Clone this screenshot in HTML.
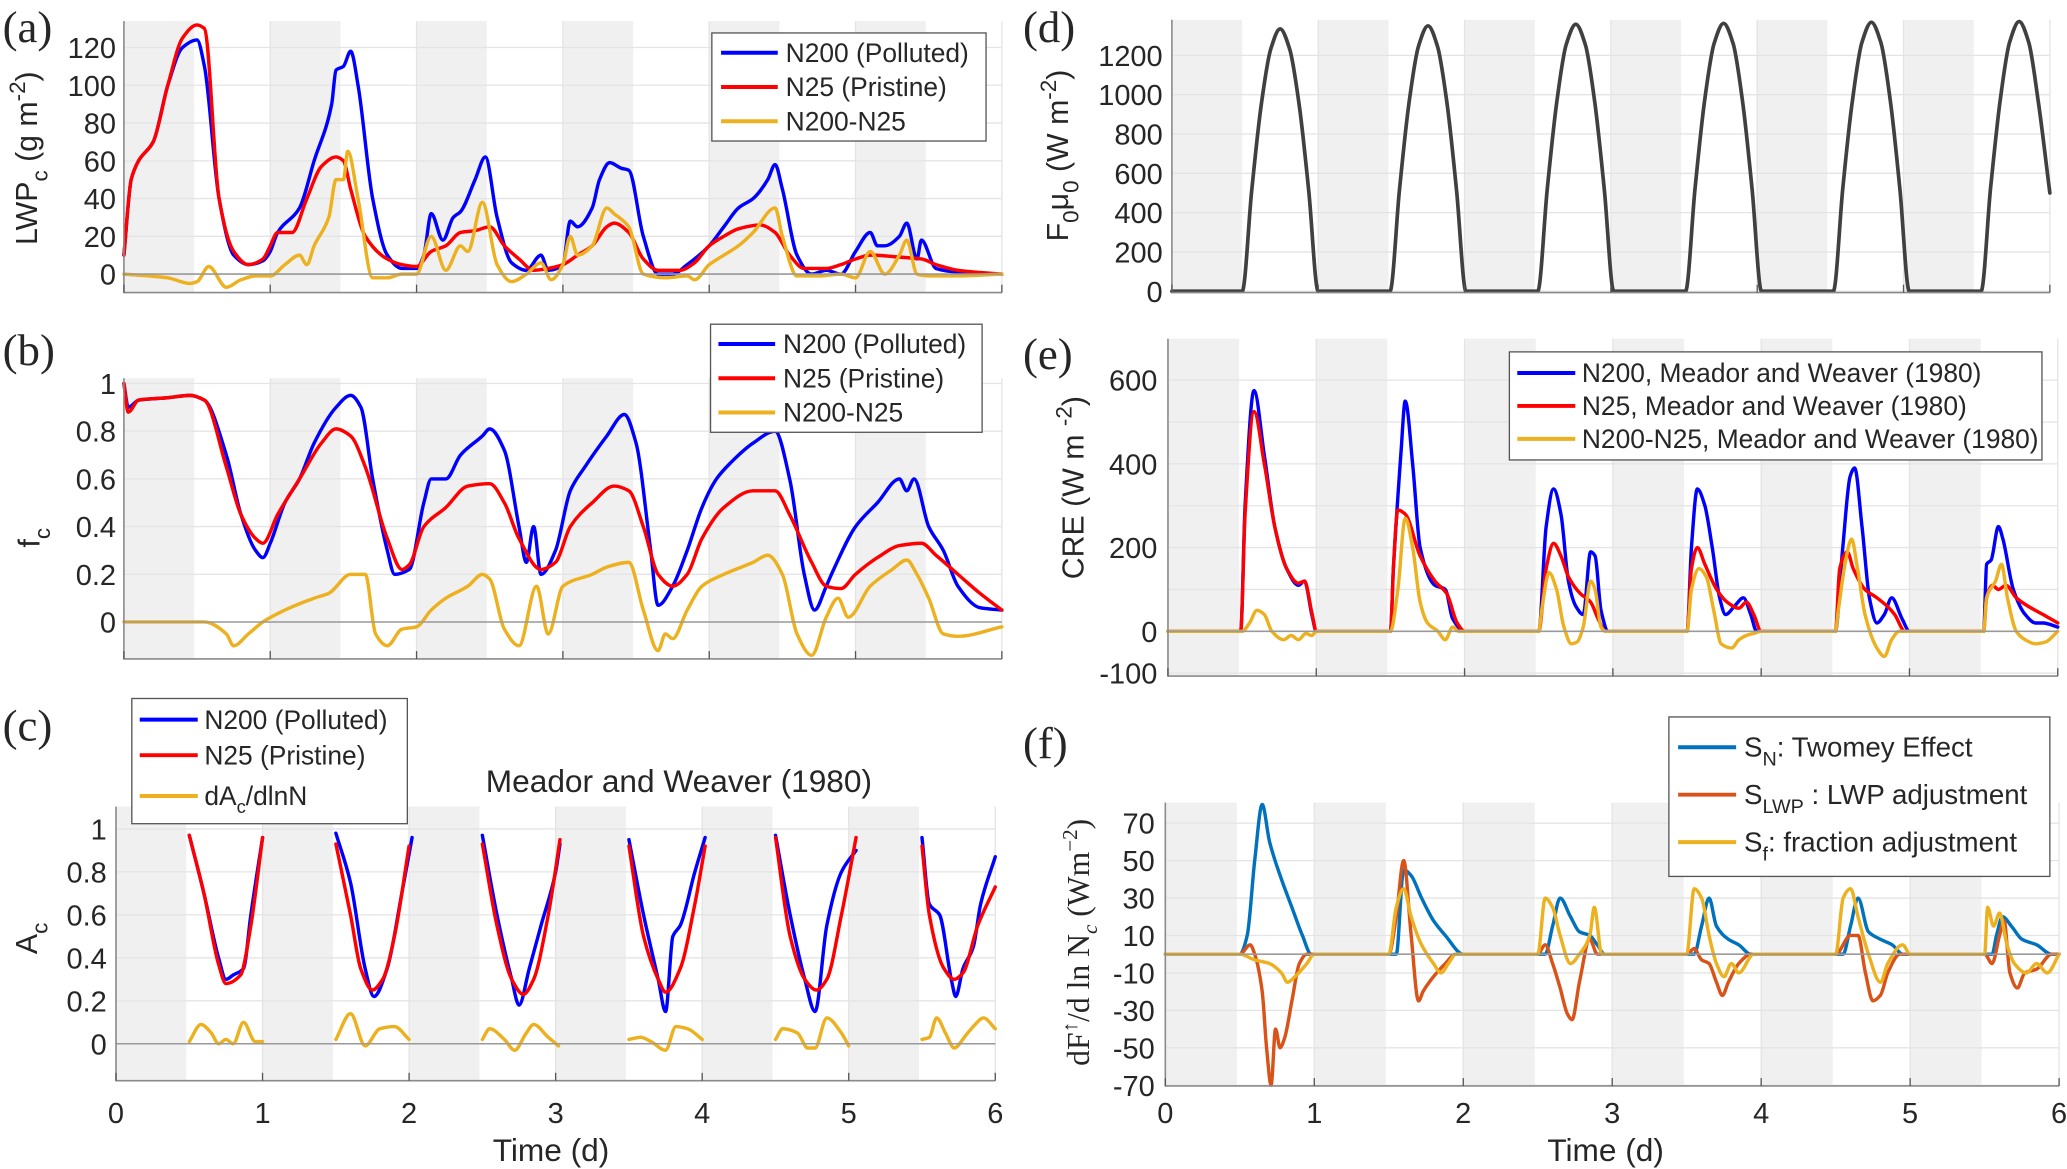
<!DOCTYPE html>
<html><head><meta charset="utf-8">
<style>
html,body{margin:0;padding:0;background:#fff;}
svg{display:block;}
text{font-family:"Liberation Sans Narrow","Liberation Sans",sans-serif;fill:#262626;}
.serif{font-family:"Liberation Serif",serif;}
</style></head>
<body>
<svg id="fig" width="2067" height="1169" viewBox="0 0 1568 887" preserveAspectRatio="none" xmlns="http://www.w3.org/2000/svg">
  <g id="bands"></g>
  <g id="grid"></g>
  <g id="lines"></g>
  <g id="axes"></g>

  <text class="serif" x="2" y="32" font-size="34">(a)</text>
  <text class="serif" x="2" y="277" font-size="34">(b)</text>
  <text class="serif" x="2" y="562" font-size="34">(c)</text>
  <text class="serif" x="776" y="32" font-size="34">(d)</text>
  <text class="serif" x="776" y="280" font-size="34">(e)</text>
  <text class="serif" x="776" y="575" font-size="34">(f)</text>

  <text transform="translate(28,120) rotate(-90)" text-anchor="middle" font-size="23" font-family="Liberation Sans">LWP<tspan dy="8" font-size="17">c</tspan><tspan dy="-8"> (g m</tspan><tspan dy="-9" font-size="17">-2</tspan><tspan dy="9">)</tspan></text>
  <text transform="translate(30,408) rotate(-90)" text-anchor="middle" font-size="23" font-family="Liberation Sans">f<tspan dy="8" font-size="17">c</tspan></text>
  <text transform="translate(28,712) rotate(-90)" text-anchor="middle" font-size="23" font-family="Liberation Sans">A<tspan dy="8" font-size="17">c</tspan></text>
  <text transform="translate(810,118) rotate(-90)" text-anchor="middle" font-size="23" font-family="Liberation Sans">F<tspan dy="8" font-size="17">0</tspan><tspan dy="-8">μ</tspan><tspan dy="8" font-size="17">0</tspan><tspan dy="-8">  (W m</tspan><tspan dy="-9" font-size="17">-2</tspan><tspan dy="9">)</tspan></text>
  <text transform="translate(822,370) rotate(-90)" text-anchor="middle" font-size="23" font-family="Liberation Sans">CRE (W m <tspan dy="-9" font-size="17">-2</tspan><tspan dy="9">)</tspan></text>
  <text class="serif" transform="translate(826,715) rotate(-90)" text-anchor="middle" font-size="24">dF<tspan dy="-9" font-size="16">↑</tspan><tspan dy="9">/d ln N</tspan><tspan dy="6" font-size="16" font-style="italic">c</tspan><tspan dy="-6"> (Wm</tspan><tspan dy="-9" font-size="16">−2</tspan><tspan dy="9">)</tspan></text>

  <text x="515" y="601" text-anchor="middle" font-size="24">Meador and Weaver (1980)</text>
  <text x="418" y="881" text-anchor="middle" font-size="24">Time (d)</text>
  <text x="1218" y="881" text-anchor="middle" font-size="24">Time (d)</text>

  <g>
    <rect x="540" y="25" width="208" height="82" fill="#fff" stroke="#555" stroke-width="1"/>
    <line x1="547" y1="40" x2="590" y2="40" stroke="#0000ff" stroke-width="3"/><text x="596" y="47" font-size="20">N200 (Polluted)</text>
    <line x1="547" y1="66" x2="590" y2="66" stroke="#ff0000" stroke-width="3"/><text x="596" y="73" font-size="20">N25 (Pristine)</text>
    <line x1="547" y1="92" x2="590" y2="92" stroke="#edb120" stroke-width="3"/><text x="596" y="99" font-size="20">N200-N25</text>
  </g>
  <g>
    <rect x="539" y="246" width="206" height="82" fill="#fff" stroke="#555" stroke-width="1"/>
    <line x1="545" y1="261" x2="588" y2="261" stroke="#0000ff" stroke-width="3"/><text x="594" y="268" font-size="20">N200 (Polluted)</text>
    <line x1="545" y1="287" x2="588" y2="287" stroke="#ff0000" stroke-width="3"/><text x="594" y="294" font-size="20">N25 (Pristine)</text>
    <line x1="545" y1="313" x2="588" y2="313" stroke="#edb120" stroke-width="3"/><text x="594" y="320" font-size="20">N200-N25</text>
  </g>
  <g>
    <rect x="100" y="530" width="209" height="95" fill="#fff" stroke="#555" stroke-width="1"/>
    <line x1="106" y1="546" x2="150" y2="546" stroke="#0000ff" stroke-width="3"/><text x="155" y="553" font-size="20">N200 (Polluted)</text>
    <line x1="106" y1="573" x2="150" y2="573" stroke="#ff0000" stroke-width="3"/><text x="155" y="580" font-size="20">N25 (Pristine)</text>
    <line x1="106" y1="604" x2="150" y2="604" stroke="#edb120" stroke-width="3"/><text x="155" y="611" font-size="20">dA<tspan dy="6" font-size="14">c</tspan><tspan dy="-6">/dlnN</tspan></text>
  </g>
  <g>
    <rect x="1145" y="267" width="404" height="82" fill="#fff" stroke="#555" stroke-width="1"/>
    <line x1="1151" y1="283" x2="1195" y2="283" stroke="#0000ff" stroke-width="3"/><text x="1200" y="290" font-size="20">N200, Meador and Weaver (1980)</text>
    <line x1="1151" y1="308" x2="1195" y2="308" stroke="#ff0000" stroke-width="3"/><text x="1200" y="315" font-size="20">N25, Meador and Weaver (1980)</text>
    <line x1="1151" y1="333" x2="1195" y2="333" stroke="#edb120" stroke-width="3"/><text x="1200" y="340" font-size="20">N200-N25, Meador and Weaver (1980)</text>
  </g>
  <g>
    <rect x="1266" y="544" width="289" height="121" fill="#fff" stroke="#555" stroke-width="1"/>
    <line x1="1273" y1="567" x2="1317" y2="567" stroke="#0072bd" stroke-width="3"/><text x="1323" y="574" font-size="21">S<tspan dy="7" font-size="15">N</tspan><tspan dy="-7">: Twomey Effect</tspan></text>
    <line x1="1273" y1="603" x2="1317" y2="603" stroke="#d95319" stroke-width="3"/><text x="1323" y="610" font-size="21">S<tspan dy="7" font-size="15">LWP</tspan><tspan dy="-7"> : LWP adjustment</tspan></text>
    <line x1="1273" y1="639" x2="1317" y2="639" stroke="#edb120" stroke-width="3"/><text x="1323" y="646" font-size="21">S<tspan dy="7" font-size="15">f</tspan><tspan dy="-7">: fraction adjustment</tspan></text>
  </g>
</svg>

<script>
// ---------- data ----------
const aN200T=[0,0.05,0.1,0.2,0.3,0.4,0.5,0.55,0.65,0.75,0.85,0.95,1.0,1.05,1.2,1.3,1.42,1.45,1.5,1.55,1.6,1.7,1.8,1.9,2.0,2.05,2.1,2.18,2.25,2.3,2.4,2.47,2.55,2.65,2.75,2.85,2.9,3.0,3.05,3.1,3.2,3.25,3.32,3.4,3.45,3.55,3.65,3.75,3.85,4.0,4.1,4.2,4.3,4.4,4.45,4.5,4.6,4.7,4.8,4.9,5.0,5.1,5.15,5.2,5.3,5.35,5.42,5.45,5.55,5.7,6.0];
const aN200V=[10,50,60,70,100,120,124,110,40,10,5,7,12,22,35,60,90,108,110,118,100,40,10,3,3,10,32,18,30,33,50,62,30,6,2,10,2,5,28,25,35,50,59,56,55,20,0,0,5,15,25,35,40,50,58,45,10,0,2,0,12,22,15,15,20,27,8,18,3,1,0];
const aN25T=[0,0.05,0.1,0.2,0.3,0.4,0.5,0.55,0.65,0.75,0.85,0.95,1.0,1.05,1.15,1.25,1.35,1.45,1.5,1.55,1.65,1.8,1.9,2.0,2.1,2.2,2.3,2.4,2.5,2.6,2.7,2.8,2.9,3.0,3.1,3.2,3.3,3.35,3.45,3.55,3.65,3.8,3.9,4.0,4.1,4.2,4.35,4.45,4.55,4.65,4.8,4.9,5.0,5.1,5.3,5.45,5.55,5.7,6.0];
const aN25V=[10,50,60,70,100,125,132,130,40,12,5,8,15,22,22,40,57,62,60,45,20,8,5,4,12,15,22,23,25,15,8,2,3,5,10,15,25,27,22,8,2,2,6,15,20,24,26,22,10,3,3,5,8,10,9,8,5,2,0];
const aDiffT=[0,0.3,0.45,0.5,0.58,0.7,0.8,0.9,1.0,1.1,1.2,1.25,1.3,1.4,1.45,1.5,1.53,1.6,1.7,1.8,1.9,2.0,2.1,2.2,2.3,2.35,2.45,2.55,2.65,2.75,2.85,2.92,3.0,3.05,3.1,3.2,3.3,3.35,3.45,3.55,3.7,3.85,3.9,4.0,4.1,4.2,4.3,4.45,4.5,4.6,4.75,4.9,5.0,5.1,5.2,5.3,5.35,5.42,5.5,5.7,6.0];
const aDiffV=[0,-2,-5,-4,4,-7,-3,-1,-1,5,10,5,15,30,50,50,65,40,-2,-2,0,0,20,2,15,12,38,5,-4,0,6,-3,5,20,10,15,35,32,25,0,-2,-1,-3,5,10,15,22,35,20,-1,-1,0,-2,12,0,10,18,0,-1,-1,0];

const bN200T=[0,0.03,0.1,0.3,0.45,0.55,0.7,0.8,0.9,0.95,1.0,1.1,1.2,1.3,1.45,1.55,1.62,1.7,1.8,1.85,1.95,2.05,2.1,2.2,2.3,2.45,2.5,2.6,2.7,2.75,2.8,2.85,2.95,3.05,3.15,3.3,3.42,3.5,3.6,3.65,3.75,3.85,3.95,4.05,4.15,4.3,4.45,4.55,4.65,4.72,4.8,4.85,5.0,5.15,5.3,5.35,5.4,5.5,5.6,5.7,5.85,6.0];
const bN200V=[1,0.9,0.93,0.94,0.95,0.93,0.7,0.45,0.3,0.27,0.33,0.5,0.6,0.75,0.9,0.95,0.9,0.6,0.3,0.2,0.22,0.5,0.6,0.6,0.7,0.78,0.81,0.72,0.4,0.25,0.4,0.2,0.3,0.55,0.65,0.78,0.87,0.75,0.3,0.07,0.15,0.3,0.48,0.6,0.67,0.75,0.8,0.6,0.2,0.05,0.15,0.22,0.4,0.5,0.6,0.55,0.6,0.4,0.3,0.15,0.06,0.05];
const bN25T=[0,0.03,0.1,0.3,0.45,0.55,0.7,0.8,0.9,0.95,1.05,1.2,1.35,1.45,1.55,1.65,1.8,1.9,1.95,2.05,2.2,2.35,2.5,2.6,2.7,2.85,2.95,3.05,3.2,3.35,3.45,3.55,3.65,3.75,3.85,3.95,4.1,4.3,4.45,4.55,4.7,4.8,4.9,5.0,5.15,5.3,5.45,5.55,5.7,5.85,6.0];
const bN25V=[1,0.88,0.93,0.94,0.95,0.93,0.65,0.45,0.35,0.33,0.45,0.6,0.75,0.81,0.78,0.65,0.35,0.22,0.24,0.4,0.48,0.57,0.58,0.5,0.35,0.22,0.25,0.4,0.5,0.57,0.55,0.4,0.2,0.15,0.2,0.35,0.48,0.55,0.55,0.45,0.25,0.15,0.14,0.2,0.27,0.32,0.33,0.28,0.2,0.12,0.05];
const bDiffT=[0,0.45,0.55,0.7,0.75,0.85,0.95,1.1,1.3,1.4,1.55,1.65,1.72,1.8,1.9,2.0,2.1,2.2,2.35,2.45,2.5,2.6,2.7,2.82,2.9,3.0,3.2,3.3,3.45,3.55,3.65,3.7,3.75,3.85,3.95,4.1,4.3,4.4,4.5,4.6,4.7,4.8,4.88,4.95,5.1,5.25,5.35,5.42,5.5,5.6,5.7,6.0];
const bDiffV=[0,0,0,-0.05,-0.1,-0.05,0,0.05,0.1,0.12,0.2,0.2,-0.05,-0.1,-0.03,-0.02,0.05,0.1,0.15,0.2,0.18,-0.03,-0.1,0.15,-0.05,0.15,0.2,0.23,0.25,0.05,-0.12,-0.05,-0.07,0.05,0.15,0.2,0.25,0.28,0.2,-0.05,-0.14,0.02,0.1,0.02,0.15,0.22,0.26,0.2,0.1,-0.05,-0.06,-0.02];

const cN200T=[0.5,0.6,0.7,0.75,0.8,0.87,0.92,1.0,null,1.5,1.6,1.7,1.76,1.85,1.95,2.02,null,2.5,2.6,2.7,2.75,2.82,2.9,3.0,3.03,null,3.5,3.6,3.7,3.75,3.8,3.85,3.95,4.02,null,4.5,4.6,4.7,4.77,4.85,4.95,5.05,null,5.5,5.55,5.62,5.7,5.73,5.78,5.85,5.9,6.0];
const cN200V=[0.97,0.7,0.4,0.3,0.32,0.35,0.6,0.96,null,0.98,0.75,0.35,0.22,0.35,0.7,0.96,null,0.97,0.6,0.3,0.18,0.35,0.55,0.8,0.93,null,0.95,0.6,0.3,0.15,0.5,0.55,0.8,0.96,null,0.97,0.6,0.3,0.15,0.55,0.8,0.9,null,0.96,0.65,0.6,0.3,0.22,0.35,0.45,0.65,0.87];
const cN25T=[0.5,0.6,0.7,0.75,0.85,0.92,1.0,null,1.5,1.6,1.67,1.75,1.82,1.9,2.0,null,2.5,2.6,2.7,2.78,2.85,2.95,3.03,null,3.5,3.6,3.7,3.75,3.85,3.95,4.02,null,4.5,4.6,4.7,4.78,4.85,4.95,5.05,null,5.5,5.55,5.65,5.72,5.78,5.88,6.0];
const cN25V=[0.97,0.7,0.37,0.28,0.32,0.55,0.96,null,0.93,0.6,0.35,0.25,0.3,0.5,0.92,null,0.93,0.55,0.3,0.23,0.3,0.6,0.95,null,0.92,0.5,0.3,0.24,0.35,0.65,0.92,null,0.96,0.5,0.3,0.25,0.3,0.6,0.96,null,0.92,0.6,0.35,0.3,0.33,0.55,0.73];
const cDiffT=[0.5,0.58,0.65,0.7,0.75,0.8,0.87,0.95,1.0,null,1.5,1.6,1.7,1.8,1.9,2.0,null,2.5,2.55,2.65,2.72,2.8,2.85,2.95,3.02,null,3.5,3.58,3.65,3.75,3.82,3.9,4.0,null,4.5,4.55,4.65,4.72,4.77,4.85,4.95,5.0,null,5.5,5.55,5.6,5.66,5.72,5.8,5.85,5.92,6.0];
const cDiffV=[0.01,0.09,0.05,0,0.02,0,0.1,0.01,0.01,null,0.02,0.14,-0.01,0.07,0.08,0.02,null,0.02,0.07,0.02,-0.03,0.05,0.09,0.03,-0.01,null,0.02,0.03,0.01,-0.03,0.08,0.07,0.02,null,0.02,0.07,0.05,-0.02,-0.02,0.12,0.05,-0.01,null,0.02,0.03,0.12,0.05,-0.02,0.04,0.08,0.12,0.07];

const dT=[0,0.48,0.545,0.61,0.675,0.74,0.805,0.87,0.935,1.0,1.49,1.555,1.62,1.685,1.75,1.815,1.88,1.945,2.01,2.5,2.565,2.63,2.695,2.76,2.825,2.89,2.955,3.02,3.51,3.575,3.64,3.705,3.77,3.835,3.9,3.965,4.03,4.52,4.585,4.65,4.715,4.78,4.845,4.91,4.975,5.04,5.53,5.595,5.66,5.725,5.79,5.855,5.92,6.0];
const dV=[0,0,510,945,1230,1335,1230,945,510,0,0,515,955,1245,1350,1245,955,515,0,0,518,960,1255,1358,1255,960,518,0,0,520,965,1260,1363,1260,965,520,0,0,522,968,1265,1368,1265,968,522,0,0,524,970,1268,1372,1268,970,500];

const eN200T=[0,0.49,0.52,0.58,0.65,0.72,0.8,0.88,0.92,0.97,1.0,1.5,1.52,1.57,1.6,1.65,1.7,1.8,1.87,1.92,2.0,2.5,2.55,2.6,2.65,2.7,2.75,2.8,2.85,2.88,2.92,2.97,3.5,3.53,3.57,3.62,3.67,3.72,3.76,3.82,3.88,3.93,3.97,4.5,4.55,4.6,4.63,4.68,4.73,4.78,4.83,4.88,4.95,5.0,5.5,5.52,5.55,5.6,5.63,5.7,5.78,5.85,5.9,6.0];
const eN200V=[0,0,300,575,420,250,150,110,120,40,0,0,150,420,550,400,200,110,100,30,0,0,250,340,280,120,60,40,190,180,50,0,0,200,340,300,200,80,40,60,80,40,0,0,200,370,390,250,80,20,40,80,30,0,0,160,170,250,220,100,40,20,20,10];
const eN25T=[0,0.49,0.52,0.58,0.65,0.72,0.8,0.88,0.92,0.97,1.0,1.5,1.52,1.55,1.6,1.7,1.8,1.88,1.95,2.0,2.5,2.55,2.6,2.65,2.7,2.78,2.85,2.9,2.95,3.5,3.53,3.57,3.62,3.7,3.77,3.85,3.9,3.95,4.0,4.5,4.53,4.58,4.62,4.7,4.78,4.85,4.9,4.97,5.5,5.52,5.56,5.6,5.65,5.72,5.8,5.9,6.0];
const eN25V=[0,0,280,525,400,250,150,115,120,45,0,0,150,290,280,180,120,90,20,0,0,150,210,180,130,90,70,30,0,0,150,200,160,100,70,55,70,40,0,0,150,190,150,100,80,60,40,0,0,80,110,100,110,80,60,40,20];
const eDiffT=[0,0.5,0.55,0.6,0.65,0.7,0.78,0.83,0.88,0.93,0.97,1.0,1.5,1.55,1.6,1.65,1.7,1.75,1.82,1.87,1.92,1.96,2.5,2.52,2.57,2.62,2.67,2.72,2.76,2.8,2.85,2.88,2.92,2.95,3.5,3.53,3.58,3.63,3.68,3.73,3.8,3.85,3.9,3.95,4.0,4.5,4.52,4.57,4.61,4.65,4.7,4.78,4.83,4.88,4.93,5.5,5.52,5.58,5.62,5.66,5.72,5.78,5.85,5.92,6.0];
const eDiffV=[0,0,20,50,40,0,-20,-10,-20,-5,-10,0,0,100,270,200,70,20,0,-20,10,0,0,50,140,100,10,-30,-25,10,120,100,10,0,0,100,150,130,50,-30,-40,-20,-10,-5,0,0,50,170,220,150,40,-40,-60,-20,0,0,80,120,160,80,0,-20,-30,-25,0];

const fNT=[0,0.5,0.55,0.6,0.65,0.7,0.78,0.85,0.92,0.98,1.55,1.6,1.65,1.72,1.8,1.88,2.0,2.55,2.6,2.65,2.72,2.78,2.85,2.9,2.95,3.55,3.6,3.65,3.7,3.78,3.85,3.93,4.55,4.6,4.65,4.72,4.8,4.88,4.95,5.55,5.58,5.62,5.68,5.75,5.85,5.95,6.0];
const fNV=[0,0,10,50,80,60,40,25,10,0,0,45,42,30,18,10,0,0,15,30,20,12,10,5,0,0,15,30,15,8,5,0,0,15,30,12,8,5,0,0,10,20,15,8,5,0,0];
const fLT=[0,0.5,0.57,0.6,0.65,0.68,0.71,0.74,0.77,0.8,0.85,0.9,0.95,1.5,1.55,1.6,1.65,1.7,1.73,1.8,1.88,1.95,2.5,2.55,2.6,2.65,2.7,2.73,2.78,2.85,2.9,3.5,3.55,3.6,3.65,3.7,3.74,3.78,3.85,3.93,4.5,4.6,4.65,4.7,4.75,4.8,4.85,4.93,5.5,5.55,5.6,5.63,5.67,5.72,5.77,5.85,5.95,6.0];
const fLV=[0,0,5,0,-20,-50,-70,-40,-50,-45,-25,-5,0,0,20,50,10,-25,-20,-12,-5,0,0,5,-5,-18,-32,-35,-15,8,0,0,3,-3,-5,-15,-22,-15,-5,0,0,10,10,-10,-25,-22,-10,0,0,-5,10,18,-10,-18,-10,-8,0,0];
const fFT=[0,0.5,0.6,0.7,0.78,0.82,0.87,0.95,1.0,1.5,1.55,1.6,1.65,1.72,1.8,1.85,1.9,1.95,2.5,2.55,2.6,2.65,2.72,2.78,2.85,2.88,2.93,3.5,3.55,3.6,3.65,3.7,3.75,3.8,3.85,3.95,4.5,4.55,4.6,4.65,4.72,4.8,4.85,4.95,5.0,5.5,5.52,5.56,5.6,5.65,5.7,5.78,5.85,5.92,6.0];
const fFV=[0,0,-3,-5,-10,-15,-12,-5,0,0,25,35,20,5,-5,-10,-5,0,0,30,25,10,-5,0,10,25,0,0,35,30,10,-5,-12,-5,-10,0,0,30,35,20,0,-15,-5,5,0,0,25,15,22,5,-5,-10,-5,-10,0];

const aTicks=[0,20,40,60,80,100,120];
const bTicks=[0,0.2,0.4,0.6,0.8,1];
const cTicks=[0,0.2,0.4,0.6,0.8,1];
const dTicks=[0,200,400,600,800,1000,1200];
const eTicks=[-100,0,200,400,600];
const eGrid=[-100,0,100,200,300,400,500,600];
const fTicks=[-70,-50,-30,-10,10,30,50,70];
const dayTicks=[0,1,2,3,4,5,6];
const nightStarts=[0,1,2,3,4,5];

// ---------- drawing ----------
const NS='http://www.w3.org/2000/svg';
const gBands=document.getElementById('bands');
const gGrid=document.getElementById('grid');
const gLines=document.getElementById('lines');
const gAxes=document.getElementById('axes');

function mk(tag,attrs,parent){const e=document.createElementNS(NS,tag);for(const k in attrs)e.setAttribute(k,attrs[k]);parent.appendChild(e);return e;}

function panel(name,x0,x1,top,bottom,vmin,vmax){
  return {name,x0,x1,top,bottom,vmin,vmax,
    x:t=>x0+t*(x1-x0)/6,
    y:v=>bottom-(v-vmin)*(bottom-top)/(vmax-vmin)};
}
const P={
  a:panel('a',94,760,16,222,-9.8,134),
  b:panel('b',94,760,287,500,-0.155,1.022),
  c:panel('c',88,755,612,820,-0.172,1.104),
  d:panel('d',889,1555,15,222,-6.7,1381),
  e:panel('e',886,1561,257,513,-107,699),
  f:panel('f',884,1562,609,824,-70.4,81)
};

function frame(p,ticks,gridVals,labelX,fmt,zeroLine,xLabels){
  for(const s of nightStarts){
    const r=mk('rect',{x:p.x(s),y:p.top,width:p.x(s+0.48)-p.x(s),height:p.bottom-p.top,fill:'#f0f0f0'},gBands);
    
    
  }
  for(const v of gridVals){
    const l=mk('line',{x1:p.x0,x2:p.x1,y1:p.y(v),y2:p.y(v),stroke:'#e4e4e4','stroke-width':1},gGrid);
    
    
  }
  for(const d of dayTicks){
    const l=mk('line',{x1:p.x(d),x2:p.x(d),y1:p.top,y2:p.bottom,stroke:'#e4e4e4','stroke-width':1},gGrid);
    
    
  }
  if(zeroLine){
    const z=mk('line',{x1:p.x0,x2:p.x1,y1:p.y(0),y2:p.y(0),stroke:'#9a9a9a','stroke-width':1.2},gAxes);
    
    
  }
  const ax=mk('path',{d:`M${p.x0},${p.top}V${p.bottom}H${p.x1}`,fill:'none',stroke:'#8a8a8a','stroke-width':1.2},gAxes);
  
  
  for(const d of dayTicks){
    const tk=mk('line',{x1:p.x(d),x2:p.x(d),y1:p.bottom,y2:p.bottom-6,stroke:'#555','stroke-width':1},gAxes);
    
    
  }
  for(const v of ticks){
    const t=mk('text',{x:labelX,y:p.y(v)+8,'text-anchor':'end','font-size':22},gAxes);
    t.textContent=fmt(v);
    
    
  }
  if(xLabels){
    for(const d of dayTicks){
      const t=mk('text',{x:p.x(d),y:852,'text-anchor':'middle','font-size':22},gAxes);
      t.textContent=String(d);
      
      
    }
  }
}

// monotone cubic (Fritsch-Carlson) in pixel space: no overshoot
function monoPath(pts){
  const n=pts.length;
  if(n<2) return `M${pts[0][0]},${pts[0][1]}`;
  const dx=[],dy=[],m=[];
  for(let i=0;i<n-1;i++){dx.push(pts[i+1][0]-pts[i][0]);dy.push(pts[i+1][1]-pts[i][1]);m.push(dy[i]/(dx[i]||1e-6));}
  const tg=new Array(n);
  tg[0]=m[0];tg[n-1]=m[n-2];
  for(let i=1;i<n-1;i++){
    if(m[i-1]*m[i]<=0) tg[i]=0;
    else{const w1=2*dx[i]+dx[i-1],w2=dx[i]+2*dx[i-1];tg[i]=(w1+w2)/(w1/m[i-1]+w2/m[i]);}
  }
  let d=`M${pts[0][0].toFixed(1)},${pts[0][1].toFixed(1)}`;
  for(let i=0;i<n-1;i++){
    const h=dx[i]/3;
    d+=`C${(pts[i][0]+h).toFixed(1)},${(pts[i][1]+h*tg[i]).toFixed(1)} ${(pts[i+1][0]-h).toFixed(1)},${(pts[i+1][1]-h*tg[i+1]).toFixed(1)} ${pts[i+1][0].toFixed(1)},${pts[i+1][1].toFixed(1)}`;
  }
  return d;
}

function series(p,ts,vs,color,w,name){
  let segs=[],cur=[];
  for(let i=0;i<ts.length;i++){
    if(ts[i]===null||vs[i]===null){if(cur.length)segs.push(cur);cur=[];continue;}
    cur.push([p.x(ts[i]),p.y(vs[i])]);
  }
  if(cur.length)segs.push(cur);
  for(const pts of segs){
    const el=mk('path',{d:monoPath(pts),fill:'none',stroke:color,'stroke-width':w,'stroke-linejoin':'round','stroke-linecap':'round'},gLines);
    
    
  }
}

const num=v=>String(v);
frame(P.a,aTicks,aTicks,88,num,true,false);
frame(P.b,bTicks,bTicks,88,num,true,false);
frame(P.c,cTicks,cTicks,81,num,true,true);
frame(P.d,dTicks,dTicks,882,num,false,false);
frame(P.e,eTicks,eGrid,878,num,true,false);
frame(P.f,fTicks,fTicks,876,num,true,true);

const BLUE='#0000ff',RED='#ff0000',YEL='#edb120';
series(P.a,aN200T,aN200V,BLUE,2.6,'line-a-n200');
series(P.a,aN25T,aN25V,RED,2.6,'line-a-n25');
series(P.a,aDiffT,aDiffV,YEL,2.6,'line-a-diff');
series(P.b,bN200T,bN200V,BLUE,2.6,'line-b-n200');
series(P.b,bN25T,bN25V,RED,2.6,'line-b-n25');
series(P.b,bDiffT,bDiffV,YEL,2.6,'line-b-diff');
series(P.c,cN200T,cN200V,BLUE,2.6,'line-c-n200');
series(P.c,cN25T,cN25V,RED,2.6,'line-c-n25');
series(P.c,cDiffT,cDiffV,YEL,2.6,'line-c-dadlnn');
series(P.d,dT,dV,'#404040',2.8,'line-d-insolation');
series(P.e,eN200T,eN200V,BLUE,2.6,'line-e-n200');
series(P.e,eN25T,eN25V,RED,2.6,'line-e-n25');
series(P.e,eDiffT,eDiffV,YEL,2.6,'line-e-diff');
series(P.f,fNT,fNV,'#0072bd',2.6,'line-f-twomey');
series(P.f,fLT,fLV,'#d95319',2.6,'line-f-lwp');
series(P.f,fFT,fFV,YEL,2.6,'line-f-fraction');
</script>
</body></html>
